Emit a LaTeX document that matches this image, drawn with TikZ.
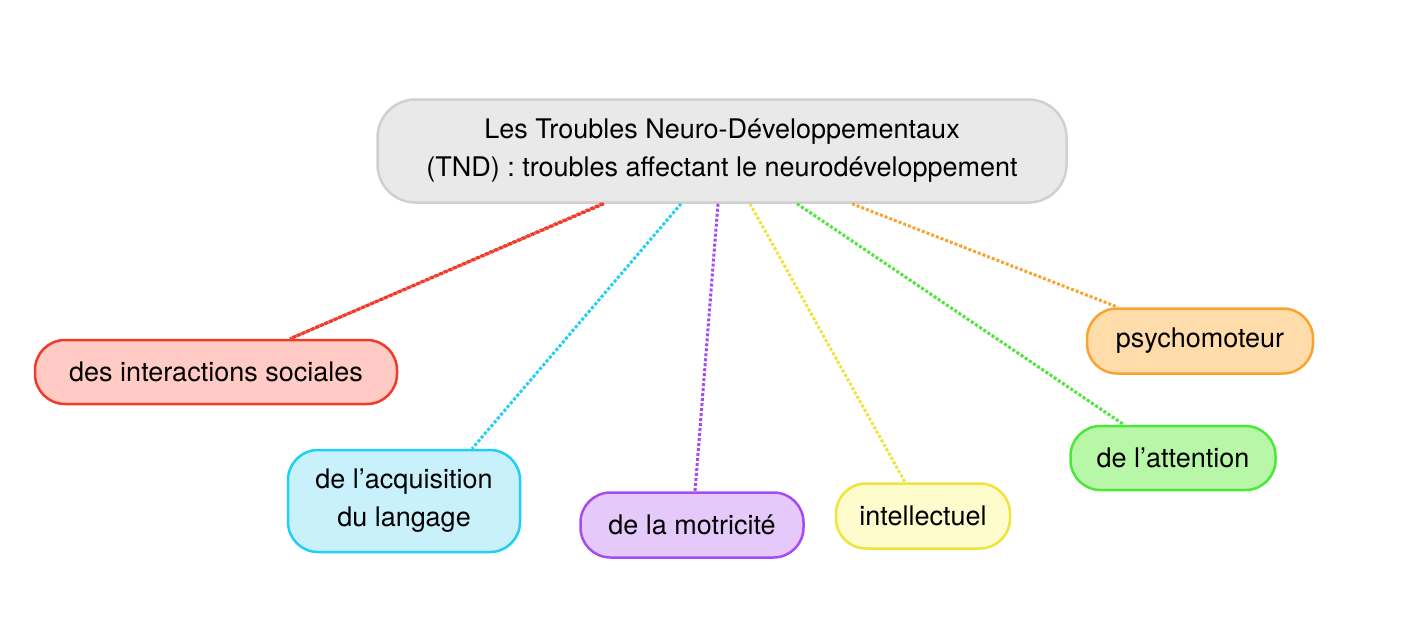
\documentclass[tikz,border=0pt]{standalone}
\usepackage{fontspec}
\setmainfont{TeX Gyre Heros}
\begin{document}
\begin{tikzpicture}[x=1pt,y=-1pt,
 box/.style={draw,line width=2.5pt,rounded corners=30pt,align=center,inner sep=0pt,font=\fontsize{27}{38}\selectfont},
 link/.style={line width=3pt,dotted}]
\useasboundingbox (0,0) rectangle (1420,624);
\definecolor{rb}{HTML}{F03A2A}\definecolor{rf}{HTML}{FFCBC4}
\definecolor{cb}{HTML}{1ED0F5}\definecolor{cf}{HTML}{C9F1FC}
\definecolor{pb}{HTML}{A64BF0}\definecolor{pf}{HTML}{E6C9FB}
\definecolor{yb}{HTML}{EEE43A}\definecolor{yf}{HTML}{FEFCCC}
\definecolor{gb}{HTML}{4BE83A}\definecolor{gf}{HTML}{B8F7A8}
\definecolor{ob}{HTML}{F9A431}\definecolor{of}{HTML}{FFDCAA}
\node[box,draw={rgb,255:red,208;green,208;blue,208},fill={rgb,255:red,233;green,233;blue,233},minimum width=689pt,minimum height=103pt,rounded corners=38pt] (root) at (722,151) {Les Troubles Neuro-Développementaux\\(TND) : troubles affectant le neurodéveloppement};
\node[box,draw=rb,fill=rf,minimum width=362pt,minimum height=64pt] (soc) at (216,372) {des interactions sociales};
\node[box,draw=cb,fill=cf,minimum width=232pt,minimum height=102pt] (lang) at (404,501) {de l'acquisition\\du langage};
\node[box,draw=pb,fill=pf,minimum width=223pt,minimum height=65pt] (mot) at (692,525) {de la motricité};
\node[box,draw=yb,fill=yf,minimum width=174pt,minimum height=65pt] (int) at (923,516) {intellectuel};
\node[box,draw=gb,fill=gf,minimum width=205pt,minimum height=64pt] (att) at (1173,458) {de l'attention};
\node[box,draw=ob,fill=of,minimum width=226pt,minimum height=65pt] (psy) at (1200,341) {psychomoteur};
\begin{scope}[on background layer/.style={}]
\end{scope}
\draw[link,rb] (root.south west) ++(226,0) -- (soc.north -| 290,0);
\draw[link,rb] ([xshift=-118pt]root.south) -- ([xshift=74pt]soc.north);
\draw[link,cb] ([xshift=-41pt]root.south) -- ([xshift=68pt]lang.north);
\draw[link,pb] ([xshift=-4pt]root.south) -- ([xshift=3pt]mot.north);
\draw[link,yb] ([xshift=28pt]root.south) -- ([xshift=-18pt]int.north);
\draw[link,gb] ([xshift=75pt]root.south) -- ([xshift=-49pt]att.north);
\draw[link,ob] ([xshift=130pt]root.south) -- ([xshift=-82pt]psy.north);
\end{tikzpicture}
\end{document}
